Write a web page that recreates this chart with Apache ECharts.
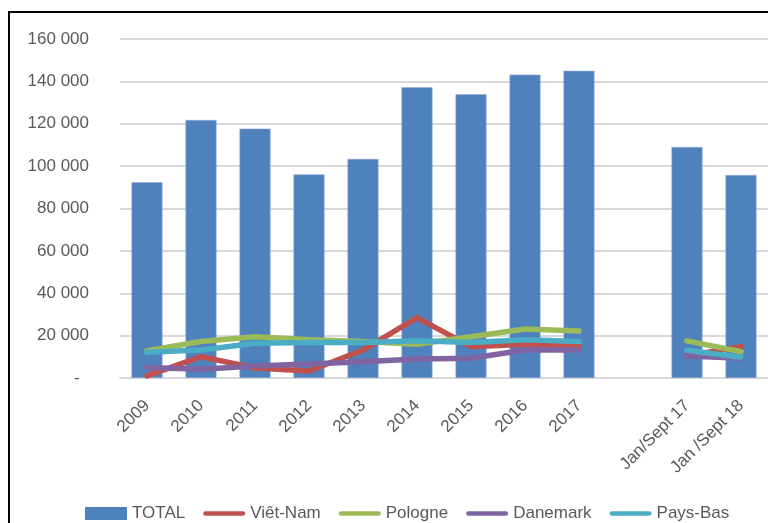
<!DOCTYPE html>
<html>
<head>
<meta charset="utf-8">
<script src="https://cdn.jsdelivr.net/npm/echarts@6/dist/echarts.min.js"></script>
<style>
  html, body { margin: 0; padding: 0; background: #fff; }
  #chart { width: 768px; height: 523px; }
</style>
</head>
<body>
<div id="chart"></div>
<script>
// categories (one empty slot between 2017 and the partial-year figures)
const categories = ['2009', '2010', '2011', '2012', '2013', '2014', '2015', '2016', '2017', '', 'Jan/Sept 17', 'Jan /Sept 18'];

const total    = [92400, 121800, 117700, 96100, 103400, 137200, 133900, 143200, 145000, null, 109000, 95800];
const vietNam  = [1000, 10100, 4700, 3300, 13200, 28500, 14800, 15900, 15100, null, 10500, 14800];
const pologne  = [12900, 17200, 19500, 18000, 17200, 15900, 19500, 23100, 22200, null, 17500, 12400];
const danemark = [4900, 4100, 5700, 6600, 7700, 9000, 9300, 13200, 13200, null, 10400, 9300];
const paysBas  = [12100, 13200, 16400, 16800, 16800, 17600, 16800, 18000, 17200, null, 13100, 9800];

const yTickLabels = ['-  ', '20 000', '40 000', '60 000', '80 000', '100 000', '120 000', '140 000', '160 000'];

const FONT = "'Liberation Sans', Arial, sans-serif";
// thin rounded bar used as the legend icon of the line series
const LINE_ICON = 'path://M2,0 H42 A2.5,2.5 0 0 1 42,5 H2 A2.5,2.5 0 0 1 2,0 Z';

const chart = echarts.init(document.getElementById('chart'));

function lineSeries(name, data, color) {
  return {
    type: 'line',
    name: name,
    data: data,
    symbol: 'none',
    connectNulls: false,
    color: color,
    lineStyle: { color: color, width: 5.5, cap: 'round', join: 'round' }
  };
}

chart.setOption({
  animation: false,
  textStyle: { fontFamily: FONT },
  graphic: [
    {
      type: 'rect',
      shape: { x: 9, y: 12, width: 800, height: 600 },
      style: { fill: 'none', stroke: '#000', lineWidth: 2 },
      silent: true
    }
  ],
  grid: { left: 120, right: -2, top: 39, bottom: 145 },
  legend: {
    left: 80,
    top: 500,
    width: 688,
    itemWidth: 42,
    itemHeight: 13,
    itemGap: 18,
    textStyle: { fontFamily: FONT, fontSize: 17, color: '#595959' },
    data: [
      { name: 'TOTAL', icon: 'rect', itemStyle: { borderWidth: 0 } },
      { name: 'Viêt-Nam', icon: LINE_ICON },
      { name: 'Pologne', icon: LINE_ICON },
      { name: 'Danemark', icon: LINE_ICON },
      { name: 'Pays-Bas', icon: LINE_ICON }
    ]
  },
  xAxis: {
    type: 'category',
    data: categories,
    axisLine: { lineStyle: { color: '#d9d9d9', width: 2 } },
    axisTick: { show: false },
    axisLabel: {
      interval: 0,
      rotate: 45,
      margin: 25,
      fontFamily: FONT,
      fontSize: 17,
      color: '#595959'
    }
  },
  yAxis: {
    type: 'value',
    min: 0,
    max: 160000,
    interval: 20000,
    axisLine: { show: false },
    axisTick: { show: false },
    splitLine: { lineStyle: { color: '#d9d9d9', width: 2 } },
    axisLabel: {
      margin: 31,
      fontFamily: FONT,
      fontSize: 17,
      color: '#595959',
      formatter: (v) => yTickLabels[Math.round(v / 20000)]
    }
  },
  series: [
    {
      type: 'bar',
      name: 'TOTAL',
      data: total,
      barWidth: 31,
      color: '#4F81BD',
      itemStyle: { color: '#4F81BD', borderColor: '#8eaad6', borderWidth: 0.6 }
    },
    lineSeries('Viêt-Nam', vietNam, '#C0504D'),
    lineSeries('Pologne', pologne, '#9BBB59'),
    lineSeries('Danemark', danemark, '#8064A2'),
    lineSeries('Pays-Bas', paysBas, '#4BACC6')
  ]
});
</script>
</body>
</html>
